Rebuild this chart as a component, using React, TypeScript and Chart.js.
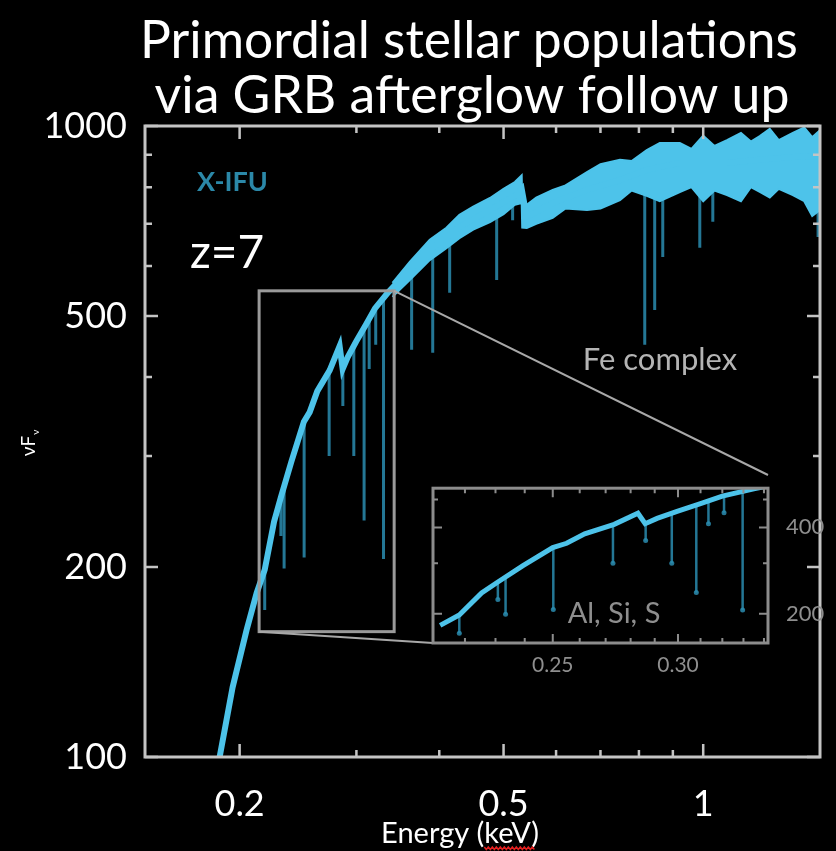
import React, { useEffect, useRef } from 'react';
import { Chart, registerables } from 'chart.js';
Chart.register(...registerables);

// ---------- text ----------
const TITLE_LINES = ['Primordial stellar populations', 'via GRB afterglow follow up'];
const X_TITLE = 'Energy (keV)';
const Y_TITLE = 'νF';
const Y_TITLE_SUB = 'ν';
const INSTRUMENT_LABEL = 'X-IFU';
const REDSHIFT_LABEL = 'z=7';
const FE_LABEL = 'Fe complex';
const INSET_LABEL = 'Al, Si, S';

// ---------- axes ----------
const X_RANGE = [0.144, 1.5];
const Y_RANGE = [100, 1000];
const X_MAJOR = [0.2, 0.5, 1];
const X_MINOR = [0.3, 0.4, 0.6, 0.7, 0.8, 0.9];
const Y_MAJOR = [100, 200, 500, 1000];
const Y_MINOR = [300, 400, 600, 700, 800, 900];

const INSET_X_RANGE = [0.214, 0.342];
const INSET_Y_RANGE = [158, 548];
const INSET_X_MAJOR = [0.25, 0.3];
const INSET_X_MINOR = [0.22, 0.23, 0.24, 0.26, 0.27, 0.28, 0.29, 0.31, 0.32, 0.33, 0.34];
const INSET_Y_MAJOR = [200, 400];
const INSET_Y_MINOR = [300, 500];

// ---------- data (keV, nuFnu) ----------
const contEnergy = [0.1866, 0.1952, 0.2049, 0.2122, 0.2182, 0.2254, 0.2308, 0.2394, 0.25, 0.2551, 0.2619, 0.2734, 0.283, 0.286, 0.291, 0.2996, 0.31, 0.32, 0.335, 0.3487, 0.3609, 0.3869, 0.4294, 0.4766, 0.5197, 0.5325, 0.5418, 0.5932, 0.6675, 0.7486, 0.8222, 0.9221, 1.0855, 1.2173, 1.3652, 1.4991];
const contFlux = [100, 129, 159, 182, 198, 236, 258, 294, 340, 352, 380, 410, 448, 412, 430, 455, 484, 514, 545, 570, 590, 636, 692, 736, 775, 795, 718, 755, 792, 821, 852, 874, 874, 884, 893, 895];

const bandEnergy = [0.34, 0.361, 0.387, 0.41, 0.429, 0.45, 0.477, 0.5, 0.52, 0.5325, 0.5335, 0.542, 0.56, 0.593, 0.62, 0.668, 0.7, 0.749, 0.78, 0.822, 0.86, 0.922, 0.96, 1.0, 1.04, 1.086, 1.14, 1.18, 1.217, 1.26, 1.3, 1.365, 1.42, 1.46, 1.5];
const bandHigh = [564, 609, 660, 690, 723, 745, 769, 795, 815, 835, 760, 750, 770, 792, 805, 845, 870, 884, 880, 916, 940, 940, 920, 965, 930, 950, 975, 945, 964, 990, 950, 975, 995, 960, 985];
const bandLow = [536, 570, 613, 640, 664, 685, 704, 725, 750, 755, 690, 689, 700, 715, 740, 736, 740, 763, 790, 775, 760, 786, 800, 760, 790, 777, 760, 800, 786, 770, 795, 777, 760, 720, 736];

const lineEnergy = [0.2182, 0.2308, 0.2334, 0.2502, 0.2729, 0.2862, 0.2973, 0.3081, 0.3136, 0.3208, 0.3296, 0.3634, 0.391, 0.4147, 0.4882, 0.516, 0.8163, 0.845, 0.869, 0.9882, 1.0339, 1.49];
const lineDepth = [171, 224, 199, 207, 300, 360, 300, 237, 412, 450, 206, 442, 437, 544, 570, 709, 450, 511, 620, 641, 705, 667];

// ---------- layout / style ----------
const W = 836;
const H = 851;
const MAIN_AREA = { left: 145, top: 126, right: 820, bottom: 757 };
const INSET_BOX = { left: 433, top: 475, right: 768, bottom: 643 };
const INSET_CANVAS = { left: 420, top: 465, width: 416, height: 210 };
const CYAN = '#4dc3ea';
const LINE_TEAL = 'rgba(42,140,175,0.85)';
const FONT = 'Lato, "Open Sans", sans-serif';

function contAt(e: number): number {
  const xs = contEnergy, ys = contFlux;
  if (e <= xs[0]) return ys[0];
  for (let i = 0; i < xs.length - 1; i++) {
    if (e >= xs[i] && e <= xs[i + 1]) {
      const t = (Math.log(e) - Math.log(xs[i])) / (Math.log(xs[i + 1]) - Math.log(xs[i]));
      return Math.exp(Math.log(ys[i]) + t * (Math.log(ys[i + 1]) - Math.log(ys[i])));
    }
  }
  return ys[ys.length - 1];
}

function absorptionData() {
  const out: any[] = [];
  lineEnergy.forEach((e, i) => {
    out.push({ x: e, y: contAt(e) }, { x: e, y: lineDepth[i] }, { x: e, y: null });
  });
  return out;
}

const pts = (xs: number[], ys: number[]) => xs.map((x, i) => ({ x, y: ys[i] }));

function drawTicks(ctx: CanvasRenderingContext2D, chart: any, xs: number[], ys: number[], len: number) {
  const a = chart.chartArea;
  const sx = chart.scales.x, sy = chart.scales.y;
  xs.forEach((v) => {
    const p = sx.getPixelForValue(v);
    ctx.beginPath();
    ctx.moveTo(p, a.bottom); ctx.lineTo(p, a.bottom - len);
    ctx.moveTo(p, a.top); ctx.lineTo(p, a.top + len);
    ctx.stroke();
  });
  ys.forEach((v) => {
    const p = sy.getPixelForValue(v);
    ctx.beginPath();
    ctx.moveTo(a.left, p); ctx.lineTo(a.left + len, p);
    ctx.moveTo(a.right, p); ctx.lineTo(a.right - len, p);
    ctx.stroke();
  });
}

function fitFont(ctx: CanvasRenderingContext2D, text: string, width: number, weight = '') {
  ctx.font = `${weight} 100px ${FONT}`;
  const w = ctx.measureText(text).width;
  return (100 * width) / w;
}

const mainPlugin = {
  id: 'mainDecor',
  beforeDraw(chart: any) {
    const ctx = chart.ctx;
    ctx.save();
    ctx.fillStyle = '#000';
    ctx.fillRect(0, 0, chart.width, chart.height);
    ctx.restore();
  },
  afterDraw(chart: any) {
    const ctx: CanvasRenderingContext2D = chart.ctx;
    const a = chart.chartArea;
    const sx = chart.scales.x, sy = chart.scales.y;
    ctx.save();
    // frame
    ctx.strokeStyle = '#c4c4c4';
    ctx.lineWidth = 3;
    ctx.strokeRect(a.left, a.top, a.right - a.left, a.bottom - a.top);
    ctx.lineWidth = 2.5;
    drawTicks(ctx, chart, X_MAJOR, Y_MAJOR, 13);
    drawTicks(ctx, chart, X_MINOR, Y_MINOR, 7);

    // zoom rectangle + connectors
    const rl = sx.getPixelForValue(INSET_X_RANGE[0]);
    const rr = sx.getPixelForValue(INSET_X_RANGE[1]);
    const rt = sy.getPixelForValue(INSET_Y_RANGE[1]);
    const rb = sy.getPixelForValue(INSET_Y_RANGE[0]);
    ctx.strokeStyle = '#9a9a9a';
    ctx.lineWidth = 3;
    ctx.strokeRect(rl, rt, rr - rl, rb - rt);
    ctx.lineWidth = 2;
    ctx.strokeStyle = '#a8a8a8';
    ctx.beginPath();
    ctx.moveTo(rr, rt); ctx.lineTo(INSET_BOX.right, INSET_BOX.top);
    ctx.moveTo(rl, rb); ctx.lineTo(INSET_BOX.left, INSET_BOX.bottom);
    ctx.stroke();

    // title
    ctx.fillStyle = '#ffffff';
    ctx.textAlign = 'center';
    ctx.textBaseline = 'alphabetic';
    const s1 = fitFont(ctx, TITLE_LINES[0], 658);
    ctx.font = `${s1}px ${FONT}`;
    ctx.fillText(TITLE_LINES[0], 469, 58);
    const s2 = fitFont(ctx, TITLE_LINES[1], 635);
    ctx.font = `${s2}px ${FONT}`;
    ctx.fillText(TITLE_LINES[1], 472, 113);

    // x title
    ctx.font = `29px ${FONT}`;
    ctx.fillText(X_TITLE, 460, 843);
    const full = ctx.measureText(X_TITLE).width;
    const pre = ctx.measureText('Energy (').width;
    const kev = ctx.measureText('keV').width;
    const x0 = 460 - full / 2 + pre;
    ctx.strokeStyle = '#e02020';
    ctx.lineWidth = 1.5;
    ctx.beginPath();
    for (let x = x0, k = 0; x <= x0 + kev + 4; x += 2, k++) {
      const y = 848 + (k % 2 ? 1.5 : -1);
      if (k === 0) ctx.moveTo(x, y); else ctx.lineTo(x, y);
    }
    ctx.stroke();

    // y title (rotated)
    ctx.save();
    ctx.translate(35, 446);
    ctx.rotate(-Math.PI / 2);
    ctx.font = `19px ${FONT}`;
    ctx.textAlign = 'center';
    ctx.fillText(Y_TITLE, 0, 0);
    const fw = ctx.measureText(Y_TITLE).width;
    ctx.font = `10px ${FONT}`;
    ctx.textAlign = 'left';
    ctx.fillText(Y_TITLE_SUB, fw / 2 + 1, 4);
    ctx.restore();

    // annotations
    ctx.textAlign = 'left';
    ctx.font = `bold 27px ${FONT}`;
    ctx.fillStyle = '#2b88a8';
    ctx.fillText(INSTRUMENT_LABEL, 197, 191);
    ctx.font = `46px ${FONT}`;
    ctx.fillStyle = '#ffffff';
    ctx.fillText(REDSHIFT_LABEL, 190, 268);
    ctx.font = `31px ${FONT}`;
    ctx.fillStyle = '#b4b4b4';
    ctx.textAlign = 'center';
    ctx.fillText(FE_LABEL, 660, 370);
    ctx.restore();
  },
};

const insetPlugin = {
  id: 'insetDecor',
  beforeDatasetsDraw(chart: any) {
    const ctx = chart.ctx;
    const a = chart.chartArea;
    ctx.save();
    ctx.fillStyle = '#000';
    ctx.fillRect(a.left, a.top, a.right - a.left, a.bottom - a.top);
    ctx.font = `29px ${FONT}`;
    ctx.fillStyle = '#8e8e8e';
    ctx.textAlign = 'center';
    ctx.fillText(INSET_LABEL, 194, 158);
    ctx.restore();
  },
  afterDraw(chart: any) {
    const ctx: CanvasRenderingContext2D = chart.ctx;
    const a = chart.chartArea;
    ctx.save();
    ctx.strokeStyle = '#8c8c8c';
    ctx.lineWidth = 3;
    ctx.strokeRect(a.left, a.top, a.right - a.left, a.bottom - a.top);
    ctx.lineWidth = 2;
    drawTicks(ctx, chart, INSET_X_MAJOR, INSET_Y_MAJOR, 9);
    drawTicks(ctx, chart, INSET_X_MINOR, INSET_Y_MINOR, 5);
    ctx.restore();
  },
};

export default function App() {
  const mainRef = useRef<HTMLCanvasElement>(null);
  const insetRef = useRef<HTMLCanvasElement>(null);

  useEffect(() => {
    document.body.style.margin = '0';
    document.body.style.background = '#000';
    const lines = absorptionData();

    const main = new Chart(mainRef.current!, {
      type: 'line',
      data: {
        datasets: [
          { data: lines, borderColor: LINE_TEAL, borderWidth: 3, pointRadius: 0, spanGaps: false, order: 3 } as any,
          { data: pts(bandEnergy, bandHigh), borderColor: CYAN, borderWidth: 2, pointRadius: 0, fill: false, order: 2 } as any,
          { data: pts(bandEnergy, bandLow), borderColor: CYAN, backgroundColor: CYAN, borderWidth: 2, pointRadius: 0, fill: '-1', order: 2 } as any,
          { data: pts(contEnergy, contFlux), borderColor: CYAN, borderWidth: 6, pointRadius: 0, order: 1 } as any,
        ],
      },
      options: {
        responsive: false,
        animation: false,
        events: [],
        layout: { padding: { left: 0, top: MAIN_AREA.top, right: W - MAIN_AREA.right, bottom: 0 } },
        plugins: { legend: { display: false }, tooltip: { enabled: false }, title: { display: false } },
        scales: {
          x: {
            type: 'logarithmic',
            min: X_RANGE[0],
            max: X_RANGE[1],
            afterBuildTicks: (s: any) => { s.ticks = X_MAJOR.map((v) => ({ value: v })); },
            afterFit: (s: any) => { s.height = H - MAIN_AREA.bottom; },
            grid: { display: false },
            border: { display: false },
            ticks: {
              autoSkip: false, maxRotation: 0, color: '#ffffff', padding: 18,
              font: { family: FONT, size: 36 },
              callback: (v: any) => String(v),
            },
          },
          y: {
            type: 'logarithmic',
            min: Y_RANGE[0],
            max: Y_RANGE[1],
            afterBuildTicks: (s: any) => { s.ticks = Y_MAJOR.map((v) => ({ value: v })); },
            afterFit: (s: any) => { s.width = MAIN_AREA.left; },
            grid: { display: false },
            border: { display: false },
            ticks: {
              autoSkip: false, color: '#ffffff', padding: 10,
              font: { family: FONT, size: 36 },
              callback: (v: any) => String(v),
            },
          },
        },
      } as any,
      plugins: [mainPlugin],
    });

    const inset = new Chart(insetRef.current!, {
      type: 'line',
      data: {
        datasets: [
          {
            data: lines, borderColor: LINE_TEAL, borderWidth: 2.5, spanGaps: false, order: 2,
            pointRadius: (c: any) => (c.dataIndex % 3 === 1 ? 2.5 : 0),
            pointBackgroundColor: LINE_TEAL, pointBorderWidth: 0,
          } as any,
          { data: pts(contEnergy, contFlux), borderColor: CYAN, borderWidth: 5, pointRadius: 0, order: 1 } as any,
        ],
      },
      options: {
        responsive: false,
        animation: false,
        events: [],
        layout: {
          padding: {
            left: INSET_BOX.left - INSET_CANVAS.left,
            top: INSET_BOX.top - INSET_CANVAS.top,
            right: 0,
            bottom: 0,
          },
        },
        plugins: { legend: { display: false }, tooltip: { enabled: false } },
        scales: {
          x: {
            type: 'logarithmic',
            min: INSET_X_RANGE[0],
            max: INSET_X_RANGE[1],
            afterBuildTicks: (s: any) => { s.ticks = INSET_X_MAJOR.map((v) => ({ value: v })); },
            afterFit: (s: any) => { s.height = INSET_CANVAS.top + INSET_CANVAS.height - INSET_BOX.bottom; },
            grid: { display: false },
            border: { display: false },
            ticks: {
              autoSkip: false, maxRotation: 0, color: '#8e8e8e', padding: 2,
              font: { family: FONT, size: 21 },
              callback: (v: any) => Number(v).toFixed(2),
            },
          },
          y: {
            type: 'logarithmic',
            position: 'right',
            min: INSET_Y_RANGE[0],
            max: INSET_Y_RANGE[1],
            afterBuildTicks: (s: any) => { s.ticks = INSET_Y_MAJOR.map((v) => ({ value: v })); },
            afterFit: (s: any) => { s.width = INSET_CANVAS.left + INSET_CANVAS.width - INSET_BOX.right; },
            grid: { display: false },
            border: { display: false },
            ticks: {
              autoSkip: false, color: '#8e8e8e', padding: 10,
              font: { family: FONT, size: 22 },
              callback: (v: any) => String(v),
            },
          },
        },
      } as any,
      plugins: [insetPlugin],
    });

    return () => {
      main.destroy();
      inset.destroy();
    };
  }, []);

  return (
    <div style={{ position: 'relative', width: W, height: H, background: '#000', overflow: 'hidden' }}>
      <canvas ref={mainRef} width={W} height={H} style={{ position: 'absolute', left: 0, top: 0, width: W, height: H }} />
      <canvas
        ref={insetRef}
        width={INSET_CANVAS.width}
        height={INSET_CANVAS.height}
        style={{ position: 'absolute', left: INSET_CANVAS.left, top: INSET_CANVAS.top, width: INSET_CANVAS.width, height: INSET_CANVAS.height }}
      />
    </div>
  );
}
